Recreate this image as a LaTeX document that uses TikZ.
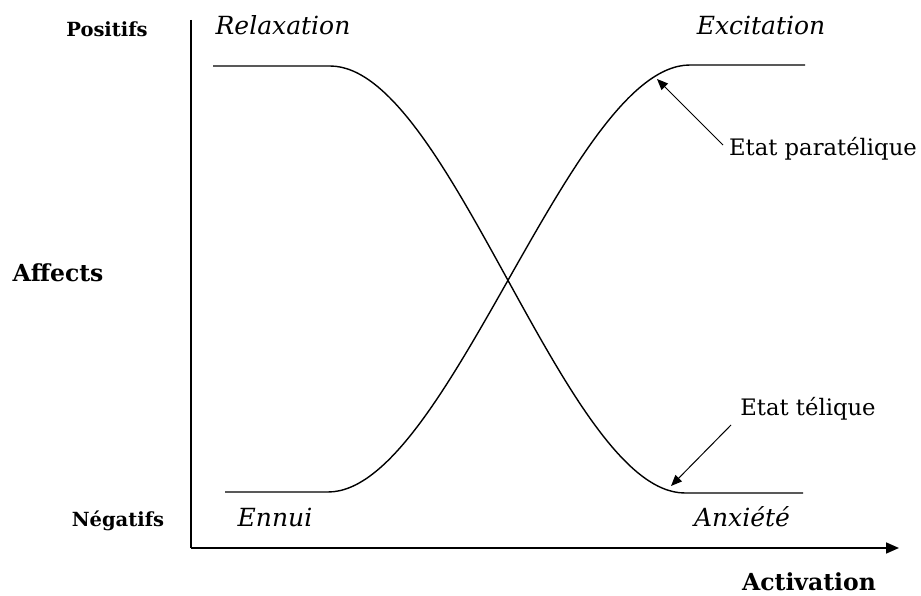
\documentclass[tikz,border=0pt]{standalone}
\usepackage{fontspec}
\setmainfont{DejaVu Serif}
\usetikzlibrary{arrows.meta, positioning}

\begin{document}
\begin{tikzpicture}[
  x=1pt, y=-1pt,
  axis/.style={draw, line width=1.6pt},
  curve/.style={draw, line width=1.4pt},
  pointer/.style={draw, line width=1pt, -{Triangle[length=11pt, width=9pt]}},
  every node/.style={inner sep=0pt},
  axislabel/.style={font=\fontsize{23.5}{27}\selectfont\bfseries},
  polelabel/.style={font=\fontsize{19.5}{23}\selectfont\bfseries},
  statelabel/.style={font=\fontsize{25}{29}\selectfont\itshape},
  note/.style={font=\fontsize{22.7}{26}\selectfont}
]
\useasboundingbox (0,0) rectangle (921,596);

% axes
\coordinate (top) at (191,20);
\coordinate (origin) at (191,548);
\coordinate (tip) at (899,548);
\draw[axis] (top) -- (origin);
\draw[axis, -{Triangle[length=13pt, width=11pt]}] (origin) -- (tip);

% axis labels
\node[polelabel] (positifs) at (107,29) {Positifs};
\node[polelabel] (negatifs) at (118,521) {Négatifs};
\node[axislabel] (affects) at (58,273) {Affects};
\node[axislabel] (activation) at (809,582) {Activation};

% state labels
\node[statelabel] (relaxation) at (283,25) {Relaxation};
\node[statelabel] (excitation) at (761,25) {Excitation};
\node[statelabel] (ennui) at (275,517) {Ennui};
\node[statelabel] (anxiete) at (742,517) {Anxiété};

% telic curve: relaxation -> anxiete
\coordinate (telicstart) at (213,66);
\coordinate (telicbend) at (330,66);
\coordinate (telicfoot) at (685,493);
\coordinate (telicend) at (803,493);
\draw[curve] (telicstart) -- (telicbend)
  .. controls (450,66) and (565,493) .. (telicfoot) -- (telicend);

% paratelic curve: ennui -> excitation
\coordinate (parastart) at (225,492);
\coordinate (parabend) at (328,492);
\coordinate (parafoot) at (690,65);
\coordinate (paraend) at (805,65);
\draw[curve] (parastart) -- (parabend)
  .. controls (448,492) and (570,65) .. (parafoot) -- (paraend);

% state names and pointers
\node[note] (para) at (823,149) {Etat paratélique};
\node[note] (telic) at (808,409) {Etat télique};
\coordinate (paratail) at (723,145);
\coordinate (paratip) at (657,79);
\coordinate (telictail) at (731,425);
\coordinate (telictip) at (671,486);
\draw[pointer] (paratail) -- (paratip);
\draw[pointer] (telictail) -- (telictip);
\end{tikzpicture}
\end{document}
